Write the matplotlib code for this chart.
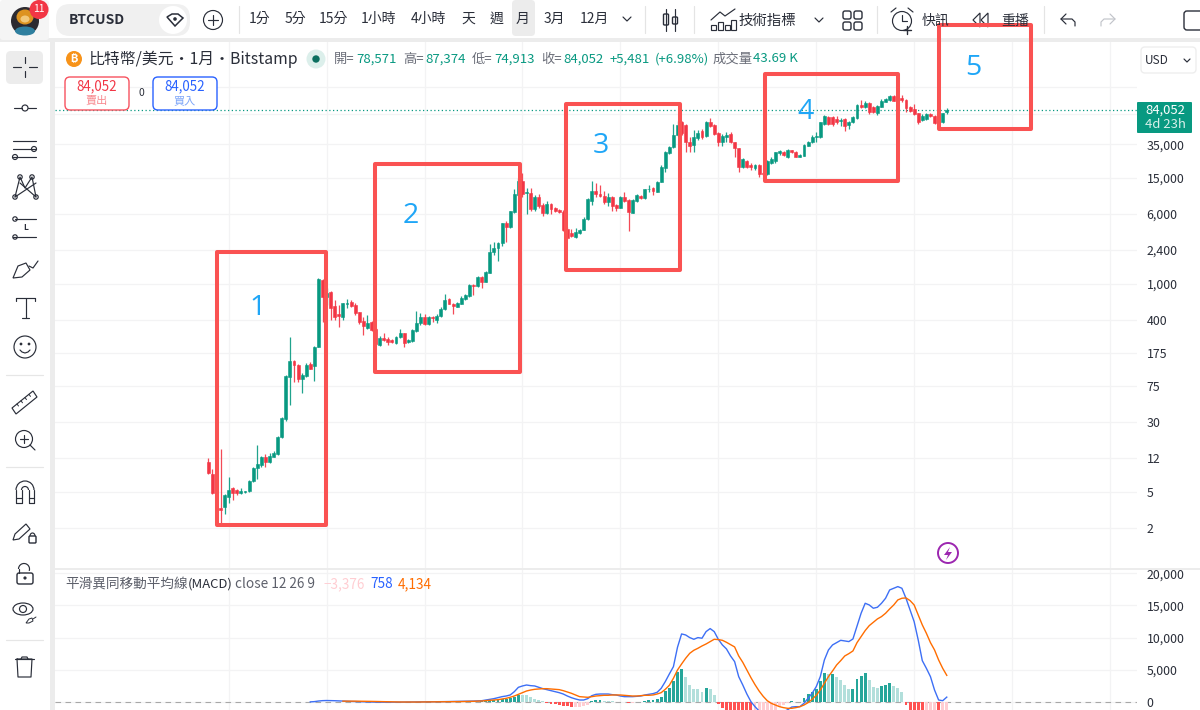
"""BTCUSD monthly chart with Elliott wave boxes, drawn like the trading screen."""
import matplotlib
matplotlib.use('Agg')
import matplotlib.pyplot as plt
from matplotlib.patches import Rectangle, Circle, FancyBboxPatch, Ellipse, Polygon, Arc
from matplotlib.ticker import FuncFormatter, NullFormatter
import numpy as np

plt.rcParams['font.family'] = ['Noto Sans CJK TC', 'DejaVu Sans']

opens = [10.8, 7.9, 4.9, 3.35, 3.4, 4.4, 5.55, 5.27, 4.9, 5.0,
         5.1, 6.6, 9.2, 9.96, 12.3, 10.9, 12.4, 13.2, 20.2, 32,
         93, 141, 127, 89, 96, 130, 124, 202, 1110, 720,
         810, 570, 465, 435, 600, 640, 586, 485, 390, 327,
         380, 320, 212, 250, 244, 238, 222, 258, 285, 228,
         234, 305, 368, 437, 362, 437, 400, 442, 525, 677,
         600, 560, 605, 680, 738, 978, 950, 1190, 1050, 1330,
         2270, 2480, 2830, 4700, 4220, 6200, 9630, 13800, 10200, 10200,
         6690, 9080, 7460, 6050, 7590, 7000, 6570, 6230, 4030, 3640,
         3300, 3680, 3950, 5180, 8330, 10700, 9950, 9470, 8000, 9200,
         7460, 7000, 9200, 8480, 6130, 8330, 9340, 8880, 11100, 11600,
         10500, 13400, 19200, 27900, 32600, 44300, 61000, 57100, 36700, 34400,
         41000, 48600, 43500, 61000, 57100, 46500, 37300, 42000, 45500, 36700,
         31600, 19500, 22900, 20600, 19000, 20600, 17000, 16500, 22000, 22900,
         28000, 29000, 25500, 30200, 29000, 25500, 25900, 33700, 36700, 42000,
         42000, 59000, 70500, 69700, 66500, 64000, 65800, 57100, 61000, 68000,
         95000, 91000, 99700, 91000, 78000, 91000, 103500, 107900, 118000, 115000,
         113000, 107900, 89800, 86000, 76700, 64900, 66200, 75000, 71500, 62000,
         61000, 78571]
closes = [8.06, 4.9, 3.35, 3.17, 4.64, 5.27, 4.9, 4.9, 5.1, 5.1,
          6.6, 9.2, 10.2, 12.3, 10.9, 12.6, 13.7, 20.2, 33.2, 96,
          141, 127, 89, 98.6, 127, 116, 202, 1140, 720, 795,
          545, 435, 440, 615, 615, 570, 475, 385, 340, 375,
          310, 217, 252, 240, 230, 230, 262, 285, 222, 240,
          310, 375, 432, 362, 437, 418, 445, 533, 665, 600,
          570, 610, 705, 750, 970, 955, 1190, 1060, 1345, 2270,
          2480, 2870, 4700, 4220, 6350, 9890, 13800, 9890, 10470, 6690,
          9080, 7280, 6050, 7650, 6690, 6400, 6180, 3950, 3240, 3360,
          3760, 3950, 5260, 8620, 10700, 9890, 9400, 8080, 9200, 7280,
          7000, 9200, 8330, 6180, 8480, 9550, 8880, 11100, 11300, 10700,
          13400, 19700, 28500, 32900, 44300, 57100, 46700, 37300, 33500, 41800,
          47100, 41800, 61000, 56000, 45000, 37300, 43100, 44300, 36700, 31600,
          19500, 24100, 19500, 19500, 20600, 16500, 16500, 22900, 24100, 28500,
          29800, 26600, 30200, 28500, 25500, 26600, 34400, 37300, 42000, 43500,
          61000, 71000, 58800, 58800, 61000, 64900, 56000, 61500, 69800, 95000,
          91000, 99700, 79000, 79000, 93400, 106000, 110000, 118000, 106000, 106000,
          107000, 88900, 81600, 75600, 61000, 71500, 75000, 71500, 60500, 57100,
          76700, 84052]
highs = [11.8, 9.0, 5.27, 15, 4.76, 7.4, 5.7, 5.4, 5.55, 5.15,
         6.8, 9.5, 16.6, 12.6, 13.2, 13.5, 14.2, 20.8, 34, 98.6,
         258, 143, 130, 104, 134, 136, 207, 1160, 1140, 905,
         830, 665, 586, 620, 680, 665, 610, 495, 430, 454,
         390, 330, 265, 290, 262, 247, 265, 315, 290, 247,
         316, 497, 476, 467, 442, 440, 467, 550, 776, 705,
         620, 630, 730, 775, 990, 995, 1225, 1225, 1380, 2750,
         2920, 2920, 4780, 4960, 6470, 11300, 14800, 17000, 11600, 11600,
         9630, 9800, 7860, 8330, 7860, 7130, 6740, 6570, 4240, 4030,
         4130, 4060, 5540, 8900, 13800, 12900, 12400, 10700, 10200, 9400,
         7590, 9400, 10370, 8640, 8640, 9890, 9550, 11300, 12400, 11900,
         13700, 20600, 29500, 33500, 58200, 63200, 63200, 58500, 42000, 50300,
         50300, 51000, 63200, 69000, 58500, 47500, 45000, 47400, 47800, 37300,
         32100, 24500, 23500, 22000, 21100, 21000, 17500, 23500, 25500, 29000,
         30500, 29800, 31000, 30600, 29500, 27300, 34900, 38000, 44300, 47400,
         62000, 73700, 72400, 71000, 72400, 68500, 68500, 63200, 72400, 96400,
         107900, 106000, 103500, 93400, 95000, 110000, 112700, 122600, 122600, 119000,
         122600, 110000, 93400, 97400, 78000, 75000, 76700, 76700, 73000, 63200,
         78000, 87374]
lows = [7.9, 4.8, 3.0, 2.3, 2.85, 3.8, 4.08, 4.64, 4.76, 4.95,
        5.0, 6.45, 7.0, 9.45, 9.45, 10.5, 12.3, 12.9, 19.8, 31,
        45.9, 82, 82, 62, 93, 115, 84, 200, 380, 586,
        400, 400, 335, 405, 540, 555, 454, 362, 273, 320,
        305, 212, 207, 235, 212, 225, 217, 252, 200, 225,
        230, 297, 352, 352, 355, 380, 370, 430, 516, 595,
        467, 550, 600, 665, 725, 756, 920, 895, 1040, 1310,
        2090, 1810, 2630, 2920, 4130, 6050, 9400, 9200, 5950, 6370,
        6370, 7000, 5660, 6000, 5950, 6180, 6050, 3850, 3120, 3300,
        3240, 3600, 3920, 5090, 7460, 9080, 9200, 7650, 7280, 6370,
        6370, 6880, 8000, 3850, 6100, 8000, 8690, 8690, 10500, 9630,
        10300, 13300, 17300, 27300, 32000, 43100, 44300, 28900, 28500, 28900,
        39000, 40000, 42000, 54500, 44300, 33500, 33500, 36700, 36000, 25500,
        17300, 19000, 19000, 18200, 18200, 15400, 15900, 16000, 21000, 21700,
        26600, 25800, 24900, 28000, 25300, 25100, 25700, 33500, 36100, 37300,
        41000, 57100, 57100, 56000, 58500, 56000, 49000, 51500, 59500, 66800,
        88900, 88900, 75600, 78000, 73700, 89800, 102000, 106000, 104500, 103000,
        102000, 80300, 80300, 73700, 59000, 63800, 64900, 70000, 59000, 54500,
        60000, 74913]

# MACD line starts at bar 25, signal and histogram at bar 33
macd_start = 25
macd_line = [20, 60, 150, 210, 230, 220, 200, 170, 130, 110,
             90, 70, 50, 30, 10, -10, -20, -30, -30, -30,
             -30, -20, -20, -10, -5, 0, 10, 15, 20, 25,
             30, 40, 50, 60, 70, 85, 95, 105, 115, 130,
             145, 170, 200, 310, 410, 520, 670, 830, 930, 1090,
             1600, 2280, 2490, 2640, 2540, 2490, 2280, 2070, 1920, 1760,
             1600, 1450, 1240, 930, 670, 470, 310, 310, 520, 980,
             1190, 1240, 1240, 1240, 1140, 1090, 930, 830, 830, 830,
             880, 930, 1090, 1190, 1300, 1500, 2120, 3160, 4350, 5490,
             8500, 10570, 10410, 10000, 9740, 10000, 9900, 10930, 11400, 10930,
             9740, 8860, 8240, 7150, 6270, 3940, 2640, 1240, 50, -725,
             -1400, -1800, -2000, -2100, -2000, -1800, -1500, -1200, -780, -725,
             -725, -200, 570, 1350, 2380, 3940, 6530, 8080, 8860, 9220,
             9580, 9480, 9380, 9790, 11810, 13780, 15330, 15070, 14560, 14710,
             15330, 16110, 17400, 17660, 17920, 17660, 16110, 14300, 12480, 9630,
             6420, 5230, 3940, 1860, 310, 200, 758]
signal_start = 33
signal_line = [130, 135, 135, 130, 125, 115, 105, 95, 80, 65,
               50, 35, 20, 10, 0, -5, -10, -10, -5, 0,
               5, 10, 15, 20, 25, 30, 40, 45, 55, 65,
               75, 90, 110, 130, 155, 200, 260, 310, 360, 470,
               570, 730, 930, 1190, 1450, 1710, 1860, 1970, 2020, 2070,
               2070, 2020, 1970, 1920, 1760, 1550, 1350, 1090, 830, 780,
               730, 830, 930, 980, 1040, 1040, 1090, 1090, 1090, 1040,
               980, 930, 930, 980, 1040, 1040, 1090, 1240, 1450, 1970,
               2590, 3680, 4970, 5900, 6790, 7560, 8030, 8340, 8700, 9010,
               9380, 9740, 9690, 9580, 9270, 8910, 8550, 7150, 6160, 4970,
               3780, 2690, 1710, 880, 200, -210, -470, -725, -880, -980,
               -980, -880, -725, -470, -100, 410, 1040, 1860, 2900, 3940,
               4820, 5750, 6420, 7150, 7510, 7930, 9220, 10150, 11090, 11860,
               12380, 12900, 13260, 13780, 14450, 15070, 15850, 16110, 16160, 15750,
               15070, 13520, 11970, 10670, 9220, 8080, 6530, 5230, 4134]
hist_values = [-5, -45, -45, -60, -65, -65, -55, -45, -40, -35,
               -30, -25, -30, -30, -25, -20, -15, -10, -5, -5,
               0, 5, 5, 5, 5, 5, 0, 5, 5, 10,
               15, 20, 25, 30, 210, 260, 260, 310, 310, 420,
               520, 620, 780, 1150, 1100, 1040, 730, 520, 310, 100,
               -150, -260, -360, -470, -620, -680, -830, -780, -700, -620,
               -420, 100, 260, 360, 210, 150, 100, 50, 30, 20,
               -150, -100, -50, 50, 200, 260, 270, 420, 830, 1700,
               2180, 3220, 4680, 5200, 3900, 2700, 2080, 1980, 1560, 2130,
               1970, 1040, -260, -930, -1500, -2000, -2300, -2800, -3000, -3200,
               -3300, -3100, -2900, -2500, -2200, -1800, -1300, -800, -400, -200,
               150, 50, 40, 680, 1250, 1560, 1980, 3220, 4470, 4320,
               4420, 3900, 3380, 2600, 2080, 2090, 3540, 4060, 4580, 3380,
               2340, 2180, 2500, 2600, 2910, 2440, 2180, 1560, -400, -1500,
               -2600, -3300, -3800, -3600, -3500, -3300, -3700, -3500, -3376]

price_ticks = [2, 5, 12, 30, 75, 175, 400, 1000, 2400, 6000, 15000, 35000, 75000, 150000]
hidden_ticks = [75000, 150000]
macd_ticks = [0, 5000, 10000, 15000, 20000]
last_price = 84052

GREEN = '#089981'
RED = '#f23645'
BOX = '#fa5252'
NUM = '#1fa6f7'
INK = '#2a2e39'
GRID = '#f3f3f4'

# 1200x710 picture, everything below is laid out in its pixels
W, H = 1200, 710
PANE_L, PANE_R = 55, 1137
PRICE_T, PRICE_B = 42, 568
MACD_T, MACD_B = 570, 710
BAR_X0, BAR_DX = 208.3, 4.08
LOG_PX = 90.5  # pixels per decade
Y_1000 = 284
MACD_PX = 0.00644  # pixels per unit
Y_ZERO = 702


def axes_px(left, top, right, bottom, **kw):
    return fig.add_axes([left / W, 1 - bottom / H, (right - left) / W, (bottom - top) / H], **kw)


fig = plt.figure(figsize=(12, 7.1), dpi=100, facecolor='#ececec')
# white strip behind the price scale
fig.patches.append(Rectangle((PANE_R / W, 0), 1 - PANE_R / W, 1 - 42 / H, transform=fig.transFigure,
                             fc='white', ec='none', figure=fig, zorder=-1))
ax = axes_px(PANE_L, PRICE_T, PANE_R, PRICE_B)
ax_macd = axes_px(PANE_L, MACD_T, PANE_R, MACD_B)
ui = axes_px(0, 0, W, H, zorder=10)
ui.set_xlim(0, W)
ui.set_ylim(H, 0)
ui.axis('off')
ui.patch.set_alpha(0)

xlim = ((PANE_L - BAR_X0) / BAR_DX, (PANE_R - BAR_X0) / BAR_DX)
grid_bars = np.arange(5, 230, 24)

# price pane
x = np.arange(len(opens))
o, h, l, c = map(np.array, (opens, highs, lows, closes))
colors = [GREEN if cc >= oo else RED for oo, cc in zip(opens, closes)]
ax.vlines(x, l, h, colors=colors, lw=0.9, alpha=0.9, zorder=3)
ax.bar(x, np.abs(c - o), bottom=np.minimum(o, c), width=0.72, color=colors, edgecolor=colors, lw=0.4, zorder=4)
ax.set_yscale('log')
ax.set_xlim(*xlim)
ax.set_ylim(1000 * 10 ** ((Y_1000 - PRICE_B) / LOG_PX), 1000 * 10 ** ((Y_1000 - PRICE_T) / LOG_PX))
ax.axhline(last_price, color=GREEN, lw=0.9, ls=(0, (1, 2)), zorder=2)
ax.yaxis.tick_right()
ax.set_yticks(price_ticks)
ax.yaxis.set_minor_formatter(NullFormatter())
ax.yaxis.set_major_formatter(FuncFormatter(lambda v, _: '' if v in hidden_ticks else f'{v:,.0f}'))
ax.minorticks_off()
ax.set_xticks(grid_bars)
ax.set_xticklabels([])
ax.set_yticks(price_ticks)

# macd pane
hist_x = np.arange(signal_start, signal_start + len(hist_values))
hist_colors = []
prev = 0
for v in hist_values:
    if v >= 0:
        hist_colors.append('#26a69a' if v >= prev else '#b2dfdb')
    else:
        hist_colors.append('#ff5252' if v <= prev else '#ffcdd2')
    prev = v
ax_macd.bar(hist_x, hist_values, width=0.72, color=hist_colors, lw=0, zorder=3)
ax_macd.plot(np.arange(macd_start, macd_start + len(macd_line)), macd_line, color='#3d6ff5', lw=1.0, zorder=4)
ax_macd.plot(np.arange(signal_start, signal_start + len(signal_line)), signal_line, color='#ff6d00', lw=1.0, zorder=5)
ax_macd.axhline(0, color='#a8a8a8', lw=0.8, ls=(0, (5, 4)), zorder=2)
ax_macd.set_xlim(*xlim)
ax_macd.set_ylim((Y_ZERO - MACD_B) / MACD_PX, (Y_ZERO - MACD_T) / MACD_PX)
ax_macd.yaxis.tick_right()
ax_macd.set_yticks(macd_ticks)
ax_macd.set_yticklabels([f'{v:,}' for v in macd_ticks])
ax_macd.set_xticks(grid_bars)
ax_macd.set_xticklabels([])

for a in (ax, ax_macd):
    a.grid(True, color=GRID, lw=0.9, zorder=0)
    a.set_axisbelow(True)
    a.tick_params(length=0, labelsize=8.9, labelcolor=INK, pad=7)
    for spine in a.spines.values():
        spine.set_visible(False)


# chrome helpers
def txt(px, py, s, color=INK, size=9, ha='center', **kw):
    ui.text(px, py, s, color=color, fontsize=size, ha=ha, va='center', **kw)


def line(xs, ys, color=INK, lw=0.85):
    ui.plot(xs, ys, color=color, lw=lw, solid_capstyle='round')


def rrect(x0, y0, x1, y1, face, edge='none', r=4, lw=1.0):
    ui.add_patch(FancyBboxPatch((x0 + r, y0 + r), x1 - x0 - 2 * r, y1 - y0 - 2 * r,
                                boxstyle=f'round,pad={r},rounding_size={r}',
                                fc=face, ec=edge, lw=lw, mutation_aspect=1))


def ring(px, py, r, face='none', edge=INK, lw=0.85):
    ui.add_patch(Circle((px, py), r, fc=face, ec=edge, lw=lw))


# top bar and left bar
ui.add_patch(Rectangle((0, 0), W, 38, fc='white', ec='none'))
ui.add_patch(Rectangle((0, 42), 50, H - 42, fc='white', ec='none'))
ui.add_patch(Rectangle((PANE_L, PRICE_B), PANE_R - PANE_L + 70, 2, fc='#ececec', ec='none'))

# avatar
rrect(0, 0, 49, 40, '#f5f5f5', r=3)
ring(25, 21, 14, face='#2c2a30', edge='none')
ui.add_patch(Ellipse((25, 17), 17, 15, fc='#dd9320', ec='none'))
ui.add_patch(Ellipse((25, 19), 9, 7, fc='#f2c879', ec='none'))
ui.add_patch(Ellipse((25, 31), 20, 9, fc='#2f7f9f', ec='none'))
ui.add_patch(Circle((39, 9.5), 9.5, fc='#f23645', ec='none'))
txt(39, 9, '11', color='white', size=7.5)

# symbol pill
rrect(56, 4, 190, 36, '#f0f0f0', r=14)
txt(69, 20, 'BTCUSD', size=10, ha='left', fontweight='bold')
ring(173, 20, 14, face='white', edge='none')
ui.add_patch(Polygon([[167, 17], [172, 14], [178, 14], [183, 18], [175, 26]], closed=True, fc='white', ec=INK, lw=1.1))
ring(175, 19, 1.8, face=INK, edge='none')
ring(213, 20, 9.5)
line([208, 218], [20, 20])
line([213, 213], [15, 25])
line([238.5, 238.5], [6, 33], color='#e4e4e4')

for label, px in zip(['1分', '5分', '15分', '1小時', '4小時', '天', '週'],
                     [260, 295, 333, 379, 428, 468, 497]):
    txt(px, 19, label, size=10)
rrect(512, 0, 535, 36, '#ececec', r=4)
for label, px in zip(['月', '3月', '12月'], [523, 554, 594]):
    txt(px, 19, label, size=10)
line([623, 627, 631], [17, 21, 17])
line([645, 645], [6, 33], color='#e4e4e4')

# candle icon
line([666, 666], [9, 31])
rrect(663.5, 14, 668.5, 25, 'white', edge=INK, r=1)
line([675, 675], [9, 31])
rrect(672.5, 17, 677.5, 24, 'white', edge=INK, r=1)
line([693.5, 693.5], [6, 33], color='#e4e4e4')

# indicators icon
line([711, 720, 725, 735], [20, 12, 16, 9])
for bx, by in zip([711, 718, 725, 731], [25, 22, 25, 20]):
    ui.add_patch(Rectangle((bx, by), 5, 30 - by, fc='white', ec=INK, lw=0.85))
txt(767, 21, '技術指標', size=10.4)
line([815, 819, 823], [18, 22, 18])
for gx, gy in [(843, 11), (854, 11), (843, 22), (854, 22)]:
    rrect(gx, gy, gx + 8, gy + 8, 'white', edge=INK, r=2)
line([876.5, 876.5], [6, 33], color='#e4e4e4')

# alarm icon
ring(902, 21, 9.5)
line([902, 902, 907], [15, 21, 21])
line([891, 896], [12, 8])
line([913, 908], [12, 8])
line([903, 911], [30, 30], lw=1.0)
line([907, 907], [26, 34], lw=1.0)
txt(935, 21, '快訊', size=10)
ui.add_patch(Polygon([[980, 13], [973, 20], [980, 27]], closed=True, fc='white', ec=INK, lw=0.85))
ui.add_patch(Polygon([[988, 13], [981, 20], [988, 27]], closed=True, fc='white', ec=INK, lw=0.85))
txt(1015, 21, '重播', size=10)
line([1044, 1044], [6, 33], color='#e4e4e4')
line([1066, 1061, 1066], [14, 19, 24])
line([1061, 1072, 1075, 1075], [19, 19, 22, 26])
line([1110, 1115, 1110], [14, 19, 24], color='#c2c4ca')
line([1115, 1104, 1101, 1101], [19, 19, 22, 26], color='#c2c4ca')
rrect(1184, 11, 1210, 30, 'white', edge=INK, r=3)

# left toolbar
rrect(6, 51, 43, 84, '#ececec', r=5)
line([13, 21], [67, 67])
line([29, 37], [67, 67])
line([25, 25], [57, 63])
line([25, 25], [71, 77])
# trend line
line([14, 22], [108, 108])
line([28, 36], [108, 108])
ring(25, 108, 3, face='white')
# parallel lines
for ly, dot in zip([141, 149, 157], [None, 34, 15]):
    line([13, 36], [ly, ly])
    if dot:
        ring(dot, ly, 2.5, face='white')
# pattern
line([15, 20, 25, 32, 36], [197, 177, 188, 177, 197])
line([15, 36], [197, 183])
line([20, 36], [183, 197])
for pp, qq in zip([15, 20, 32, 36], [197, 177, 177, 197]):
    ring(pp, qq, 2.2, face='white')
# measure lines
line([15, 36], [219, 219])
line([13, 36], [237, 237])
ring(15, 219, 2.2, face='white')
ring(15, 237, 2.2, face='white')
txt(26, 228, 'L', size=6, fontweight='bold')
# brush
ui.add_patch(Polygon([[13, 278], [18, 266], [26, 263], [30, 270], [22, 277]], closed=True, fc='white', ec=INK, lw=0.85))
line([29, 33, 38], [266, 268, 261])
# text tool
line([16, 35], [298, 298])
line([16, 16], [298, 301])
line([35, 35], [298, 301])
line([25.5, 25.5], [298, 318])
line([22, 29], [318, 318])
# smiley
ring(25, 347, 11)
ring(21, 344, 0.8, face=INK)
ring(29, 344, 0.8, face=INK)
line([20, 22, 25, 28, 30], [350, 352, 353, 352, 350])
line([6, 43], [375, 375], color='#e6e6e6')
# ruler
ui.add_patch(Polygon([[12, 408], [33, 391], [37, 397], [16, 414]], closed=True, fc='white', ec=INK, lw=0.85))
for tk in [17, 21, 25, 29]:
    line([tk, tk + 1.5], [408 - (tk - 12) * 0.8, 410 - (tk - 12) * 0.8], lw=0.7)
# zoom
ring(24, 439, 8.5)
line([20, 28], [439, 439])
line([24, 24], [435, 443])
line([30, 35], [445, 450])
line([6, 43], [467, 467], color='#e6e6e6')
# magnet
line([16, 16], [503, 490])
line([34, 34], [503, 490])
ui.add_patch(Arc((25, 490), 18, 18, theta1=180, theta2=360, color=INK, lw=0.85))
line([21.5, 21.5], [503, 490])
line([28.5, 28.5], [503, 490])
ui.add_patch(Arc((25, 490), 7, 7, theta1=180, theta2=360, color=INK, lw=0.85))
line([16, 21.5], [498, 498])
line([28.5, 34], [498, 498])
line([16, 21.5], [503, 503])
line([28.5, 34], [503, 503])
# pencil with lock
ui.add_patch(Polygon([[13, 540], [15, 534], [26, 524], [30, 529], [19, 539]], closed=True, fc='white', ec=INK, lw=0.85))
rrect(29, 536, 36, 543, 'white', edge=INK, r=1)
ui.add_patch(Arc((32.5, 536), 5, 6, theta1=180, theta2=360, color=INK, lw=0.85))
# lock
rrect(17, 573, 33, 584, 'white', edge=INK, r=2)
ring(25, 578, 1, face=INK)
ui.add_patch(Arc((24, 569), 11, 11, theta1=180, theta2=20, color=INK, lw=0.85))
line([18.5, 18.5], [569, 573])
# eye
ui.add_patch(Ellipse((23, 609), 20, 12, fc='white', ec=INK, lw=0.85))
ring(23, 609, 3.5)
ui.add_patch(Polygon([[26, 623], [29, 619], [32, 618], [33, 621], [29, 623]], closed=True, fc='white', ec=INK, lw=0.7))
line([33, 36], [619, 617], lw=0.7)
line([6, 43], [640, 640], color='#e6e6e6')
# trash
line([15, 34], [659, 659])
line([21, 22, 27, 28], [659, 657, 657, 659])
line([17, 18, 31, 32, 17], [659, 677, 677, 659, 659])

# legend rows
ring(74, 59, 8, face='#f7931a', edge='none')
txt(74, 58.5, '₿', color='white', size=8, fontweight='bold', family=['Inter', 'Noto Sans', 'Roboto', 'DejaVu Sans'])
txt(88, 59, '比特幣/美元・1月・Bitstamp', size=11.4, ha='left')
ring(316, 59, 9.5, face='#dcefeb', edge='none')
ring(316, 59, 3.7, face='#0b6f5f', edge='none')
for label, px in zip(['開=', '高=', '低=', '收='], [334, 403, 472, 541]):
    txt(px, 59, label, color='#6a6d78', size=9.5, ha='left')
for value, px in zip(['78,571', '87,374', '74,913', '84,052', '+5,481', '(+6.98%)'],
                     [356, 425, 494, 563, 610, 655]):
    txt(px, 59, value, color=GREEN, size=9.5, ha='left')
txt(713, 59, '成交量', color='#6a6d78', size=9.6, ha='left')
txt(753, 59, '43.69 K', color=GREEN, size=9.5, ha='left')

rrect(65, 77, 129, 110, 'white', edge='#f7525f', r=5)
txt(97, 86.5, '84,052', color='#f23645', size=9.6, fontweight='medium')
txt(97, 101, '賣出', color='#f88a90', size=8)
txt(141, 93, '0', size=7.5)
rrect(153, 77, 217, 110, 'white', edge='#2962ff', r=5)
txt(185, 86.5, '84,052', color='#2962ff', size=9.6, fontweight='medium')
txt(185, 101, '買入', color='#7fa6f8', size=8)

rrect(1141, 47, 1196, 73, 'white', edge='#eeeeee', r=4)
txt(1145, 60, 'USD', size=8.5, ha='left')
line([1184, 1187, 1190], [59, 62, 59])

# last price tag
rrect(1137, 102, 1192, 133, GREEN, r=1)
txt(1165, 110.5, '84,052', color='white', size=9.4)
txt(1165, 124, '4d 23h', color='#d8f0ea', size=9.4)

# macd legend
txt(65, 584, '平滑異同移動平均線', color='#5d606b', size=9.8, ha='left')
txt(188, 584, '(MACD)', color=INK, size=9.4, ha='left')
txt(235, 584, 'close 12 26 9', color='#5d606b', size=9.8, ha='left')
txt(323, 584, '−3,376', color='#ffcdd2', size=9.8, ha='left')
txt(370, 584, '758', color='#2962ff', size=9.8, ha='left')
txt(398, 584, '4,134', color='#ff6d00', size=9.8, ha='left')

# lightning badge
ring(948, 553, 10, face='white', edge='#9c27b0', lw=1.4)
ui.add_patch(Polygon([[950, 547], [944, 555], [948, 555], [946, 560], [952, 552], [948, 552]],
                     closed=True, fc='#9c27b0', ec='none'))

# hand drawn wave boxes and numbers on top of everything
for bx0, by0, bx1, by1, label, nx, ny in [(217, 252, 326, 525, '1', 258, 308),
                                          (375, 164, 520, 372, '2', 411, 216),
                                          (566, 104, 680, 270, '3', 601, 146),
                                          (765, 74, 898, 181, '4', 805, 112),
                                          (939, 25, 1031, 129, '5', 973, 68)]:
    ui.add_patch(Rectangle((bx0, by0), bx1 - bx0, by1 - by0, fc='none', ec=BOX, lw=2.9, joinstyle='round'))
    ui.text(nx, ny, label, color=NUM, fontsize=20.5, ha='center', va='center', family=['Open Sans', 'DejaVu Sans'])

fig.savefig('out.png', dpi=100, facecolor=fig.get_facecolor())
